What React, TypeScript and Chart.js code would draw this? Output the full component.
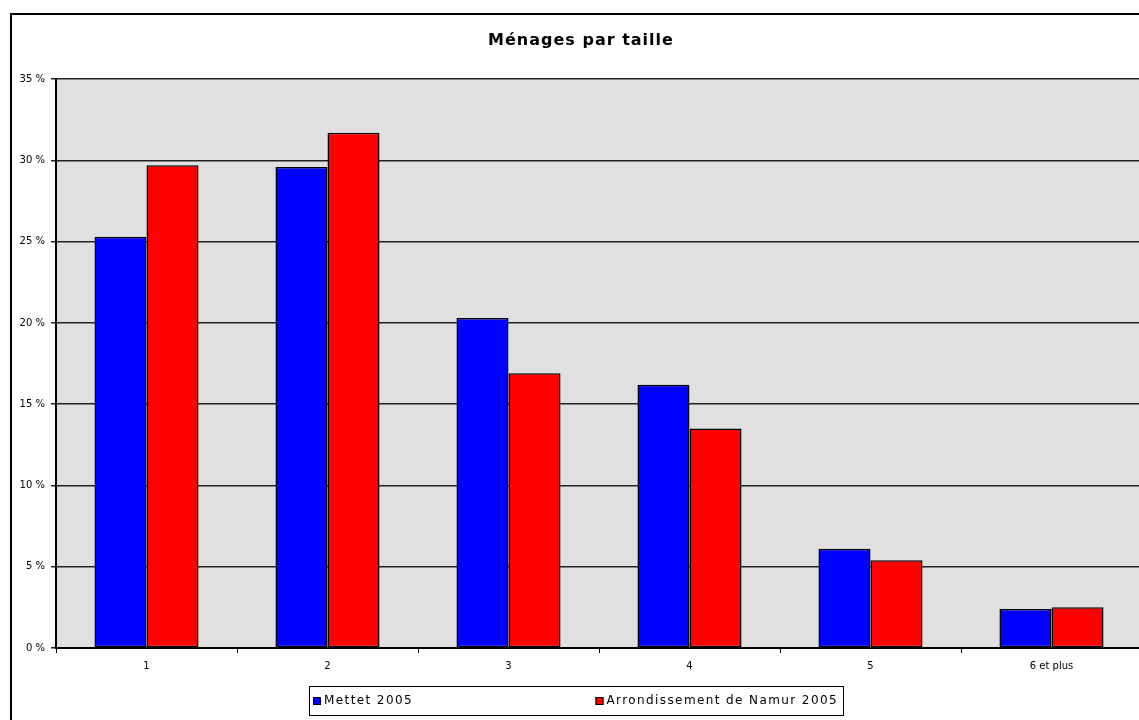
import React, { useEffect, useRef } from 'react';
import { Chart, registerables } from 'chart.js';

Chart.register(...registerables);

const chartTitle = 'Ménages par taille';
const categories = ['1', '2', '3', '4', '5', '6 et plus'];
const seriesLabels = ['Mettet 2005', 'Arrondissement de Namur 2005'];
const mettet2005 = [25.3, 29.6, 20.3, 16.2, 6.1, 2.4];
const namur2005 = [29.7, 31.7, 16.9, 13.5, 5.4, 2.5];
const seriesColors = ['#0000ff', '#ff0000'];
const yMax = 35;
const yStep = 5;

const CANVAS_W = 1160;
const CANVAS_H = 740;

export default function App() {
  const ref = useRef<HTMLCanvasElement | null>(null);

  useEffect(() => {
    const canvas = ref.current;
    if (!canvas) return;

    const decor = {
      id: 'decor',
      beforeDraw(chart: any) {
        const { ctx, chartArea: a } = chart;
        ctx.save();
        ctx.fillStyle = '#e0e0e0';
        ctx.fillRect(a.left, a.top, a.right - a.left, a.bottom - a.top);
        ctx.restore();
        ctx.letterSpacing = '1px';
      },
      afterDatasetsDraw(chart: any) {
        chart.ctx.letterSpacing = '0px';
      },
      afterDraw(chart: any) {
        const ctx = chart.ctx;
        ctx.save();
        // outer frame
        ctx.strokeStyle = '#000';
        ctx.lineWidth = 2;
        ctx.strokeRect(11, 14, CANVAS_W, CANVAS_H);

        // legend box
        const bw = 534;
        const bh = 29;
        const cx = 575.5;
        const left = Math.round(cx - bw / 2);
        const top = 686;
        ctx.lineWidth = 1;
        ctx.strokeStyle = '#000';
        ctx.fillStyle = '#fff';
        ctx.fillRect(left, top, bw, bh);
        ctx.strokeRect(left + 0.5, top + 0.5, bw, bh);

        ctx.font = '12px "DejaVu Sans"';
        ctx.letterSpacing = '1.4px';
        ctx.textBaseline = 'middle';
        ctx.textAlign = 'left';
        const cy = top + bh / 2 + 0.5;
        const ds = chart.data.datasets;
        ds.forEach((d: any, i: number) => {
          const w = ctx.measureText(d.label).width;
          let mx: number;
          if (i === 0) {
            mx = left + 4;
          } else {
            mx = left + bw - 5 - w - 11;
          }
          ctx.fillStyle = d.backgroundColor;
          ctx.fillRect(mx, cy - 4, 8, 8);
          ctx.strokeStyle = '#000';
          ctx.strokeRect(mx + 0.5, cy - 4 + 0.5, 7, 7);
          ctx.fillStyle = '#000';
          ctx.fillText(d.label, mx + 11, cy);
        });
        ctx.restore();
      },
    };

    const barCommon = {
      borderColor: '#000',
      borderWidth: 1.5,
      borderSkipped: false,
      categoryPercentage: 0.575,
      barPercentage: 1,
    };

    const chart = new Chart(canvas, {
      type: 'bar',
      data: {
        labels: categories,
        datasets: [
          { label: seriesLabels[0], data: mettet2005, backgroundColor: seriesColors[0], ...barCommon },
          { label: seriesLabels[1], data: namur2005, backgroundColor: seriesColors[1], ...barCommon },
        ],
      },
      options: {
        responsive: false,
        animation: false,
        events: [],
        layout: { padding: { left: 20, right: 18, top: 0, bottom: 62 } },
        plugins: {
          legend: { display: false },
          tooltip: { enabled: false },
          title: {
            display: true,
            text: chartTitle,
            color: '#000',
            font: { family: '"DejaVu Sans"', size: 16, weight: 'bold', lineHeight: 1.2 },
            padding: { top: 31, bottom: 29 },
          },
        },
        scales: {
          x: {
            type: 'category',
            offset: true,
            afterFit(scale: any) { scale.height = 30; },
            grid: {
              display: true,
              drawOnChartArea: false,
              drawTicks: true,
              tickLength: 5,
              color: '#000',
              lineWidth: 1,
              offset: true,
            },
            border: { display: true, color: '#000', width: 2 },
            ticks: {
              z: 1,
              color: '#000',
              padding: 7,
              maxRotation: 0,
              autoSkip: false,
              font: { family: '"DejaVu Sans"', size: 10 },
            },
          },
          y: {
            min: 0,
            max: yMax,
            afterFit(scale: any) { scale.width = 36; },
            grid: {
              color: '#222',
              lineWidth: 1.5,
              drawTicks: true,
              tickLength: 5,
            },
            border: { display: true, color: '#000', width: 2 },
            ticks: {
              z: 1,
              stepSize: yStep,
              color: '#000',
              padding: 6,
              font: { family: '"DejaVu Sans"', size: 10 },
              callback: (v: any) => `${v} %`,
            },
          },
        },
      },
      plugins: [decor],
    } as any);

    return () => chart.destroy();
  }, []);

  return (
    <div
      style={{
        position: 'fixed',
        left: 0,
        top: 0,
        width: 1139,
        height: 720,
        overflow: 'hidden',
        background: '#fff',
      }}
    >
      <canvas
        ref={ref}
        width={CANVAS_W}
        height={CANVAS_H}
        style={{ display: 'block', width: CANVAS_W, height: CANVAS_H }}
      />
    </div>
  );
}
